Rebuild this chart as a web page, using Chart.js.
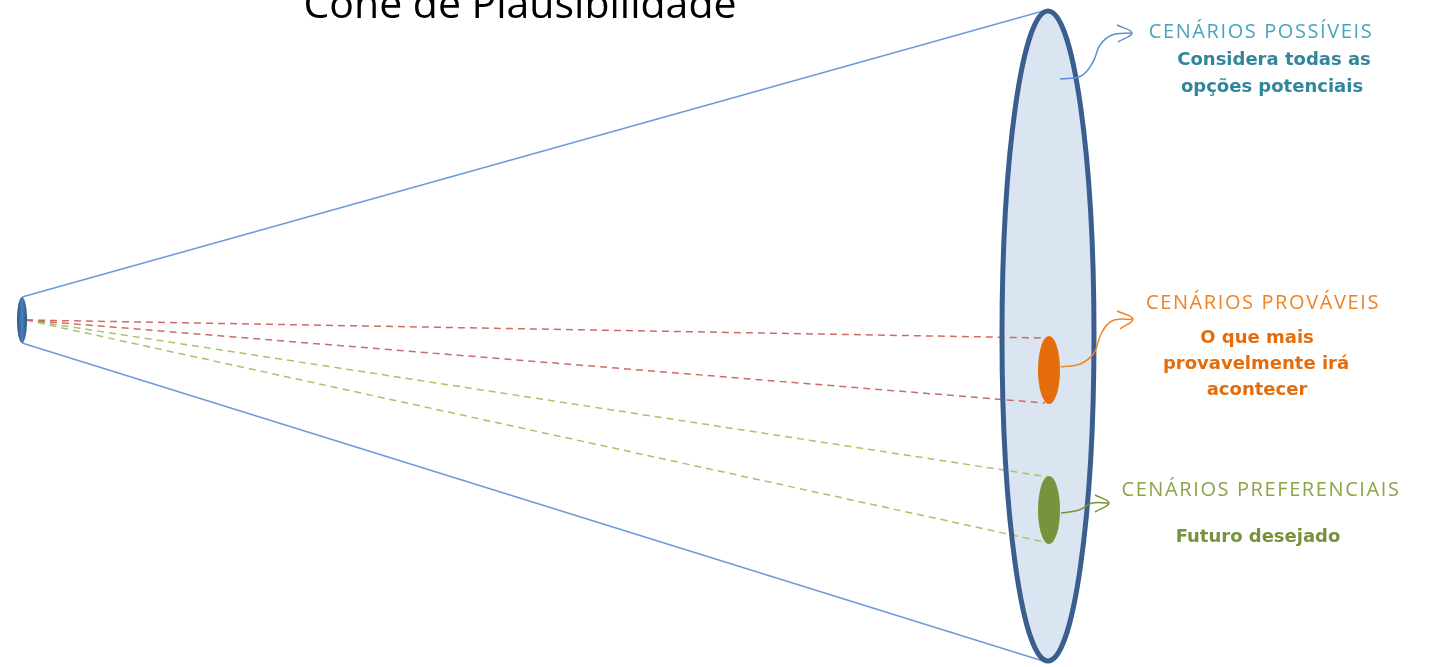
<!doctype html>
<html>
<head>
<meta charset="utf-8">
<title>Cone de Plausibilidade</title>
<style>
  html, body { margin: 0; padding: 0; background: #ffffff; }
  #wrap { width: 1433px; height: 667px; }
</style>
</head>
<body>
<div id="wrap"><canvas id="chart"></canvas></div>
<script src="https://cdn.jsdelivr.net/npm/chart.js"></script>
<script>
// diagram data (in picture units, x right, y down)
const coneUpper = [[22, 297], [1043, 11]];
const coneLower = [[22, 343], [1043, 661]];
const redDashA = [[26, 320], [1045, 338]];
const redDashB = [[26, 320], [1045, 403]];
const greenDashA = [[26, 320], [1049, 477]];
const greenDashB = [[26, 320], [1049, 543]];

const ellipseCX = [22, 1048, 1049, 1049];
const ellipseCY = [320, 336, 370, 510];
const ellipseRX = [5, 46, 11, 11];
const ellipseRY = [23, 325, 34, 34];

const arrowBlue = [[1060, 79], [1081, 76], [1093, 62], [1100, 45], [1112, 35], [1131, 33]];
const arrowBlueHead = [[1117, 25], [1132, 33], [1118, 42]];
const arrowOrange = [[1061, 367], [1080, 364], [1094, 353], [1101, 334], [1112, 321], [1132, 319]];
const arrowOrangeHead = [[1117, 311], [1133, 319], [1120, 329]];
const arrowGreen = [[1061, 513], [1079, 510], [1092, 503], [1108, 503]];
const arrowGreenHead = [[1095, 495], [1109, 503], [1095, 512]];

const titleText = 'Cone de Plausibilidade';
const labelTexts = ['CENÁRIOS POSSÍVEIS', 'Considera todas as', 'opções potenciais',
                    'CENÁRIOS PROVÁVEIS', 'O que mais', 'provavelmente irá', 'acontecer',
                    'CENÁRIOS PREFERENCIAIS', 'Futuro desejado'];
const labelX = [1261, 1274, 1272, 1263, 1257, 1256, 1257, 1261, 1258];
const labelY = [32, 60, 87, 303, 338, 364, 390, 490, 537];
const labelKind = ['head', 'body', 'body', 'head', 'body', 'body', 'body', 'head', 'body'];
const labelColor = ['#48a3bf', '#31859c', '#31859c', '#ef8224', '#e46c0a', '#e46c0a', '#e46c0a', '#8ba447', '#76923c'];

function pts(arr) { return arr.map(p => ({ x: p[0], y: p[1] })); }

function seg(arr, color, width, dash, order) {
  return {
    type: 'line', data: pts(arr), borderColor: color, borderWidth: width,
    borderDash: dash || [], pointRadius: 0, fill: false, tension: 0, order: order
  };
}
function curve(arr, color, order) {
  const d = seg(arr, color, 1.5, [], order);
  d.tension = 0.4;
  d.isArrow = true;
  return d;
}

function ell(ctx, chart, i) {
  const xs = chart.scales.x, ys = chart.scales.y;
  const cx = xs.getPixelForValue(ellipseCX[i]);
  const cy = ys.getPixelForValue(ellipseCY[i]);
  const rx = Math.abs(xs.getPixelForValue(ellipseCX[i] + ellipseRX[i]) - cx);
  const ry = Math.abs(ys.getPixelForValue(ellipseCY[i] + ellipseRY[i]) - cy);
  ctx.beginPath();
  ctx.ellipse(cx, cy, rx, ry, 0, 0, Math.PI * 2);
}

const conePlugin = {
  id: 'cone',
  beforeDraw(chart) { chart._ellDone = false; },
  beforeDatasetsDraw(chart) {
    const ctx = chart.ctx;
    ctx.save();
    ell(ctx, chart, 1);
    ctx.fillStyle = '#dbe5f1';
    ctx.fill();
    ctx.restore();
  },
  beforeDatasetDraw(chart, args) {
    if (chart._ellDone || !chart.data.datasets[args.index].isArrow) return;
    chart._ellDone = true;
    const ctx = chart.ctx;
    ctx.save();
    ell(ctx, chart, 1);
    ctx.strokeStyle = '#3a5f8e';
    ctx.lineWidth = 5;
    ctx.stroke();
    ell(ctx, chart, 0);
    const g = ctx.createLinearGradient(17, 0, 27, 0);
    g.addColorStop(0, '#2a5788');
    g.addColorStop(0.5, '#4a7fb8');
    g.addColorStop(1, '#2a5788');
    ctx.fillStyle = g;
    ctx.fill();
    ell(ctx, chart, 2);
    ctx.fillStyle = '#e46c0a';
    ctx.fill();
    ell(ctx, chart, 3);
    ctx.fillStyle = '#77933c';
    ctx.fill();
    ctx.restore();
  },
  afterDatasetsDraw(chart) {
    const ctx = chart.ctx, xs = chart.scales.x, ys = chart.scales.y;
    ctx.save();
    ctx.textAlign = 'center';
    ctx.fillStyle = '#000000';
    ctx.font = '41px "Open Sans", sans-serif';
    ctx.textBaseline = 'alphabetic';
    ctx.fillText(titleText, xs.getPixelForValue(520), ys.getPixelForValue(18));
    ctx.textBaseline = 'middle';
    labelTexts.forEach((t, i) => {
      if (labelKind[i] === 'head') {
        ctx.font = '20px "Open Sans", sans-serif';
        ctx.letterSpacing = '1.6px';
      } else {
        ctx.font = 'bold 18px "DejaVu Sans", sans-serif';
        ctx.letterSpacing = '0px';
      }
      ctx.fillStyle = labelColor[i];
      ctx.fillText(t, xs.getPixelForValue(labelX[i]), ys.getPixelForValue(labelY[i]));
    });
    ctx.restore();
  }
};

new Chart(document.getElementById('chart'), {
  type: 'scatter',
  data: {
    datasets: [
      curve(arrowBlue, '#5b8fd0', 1),
      curve(arrowBlueHead, '#5b8fd0', 1),
      curve(arrowOrange, '#f08426', 1),
      curve(arrowOrangeHead, '#f08426', 1),
      curve(arrowGreen, '#77933c', 1),
      curve(arrowGreenHead, '#77933c', 1),
      seg(coneUpper, '#6d9bd6', 1.5, [], 5),
      seg(coneLower, '#6d9bd6', 1.5, [], 5),
      seg(redDashA, '#cd6b68', 1.5, [7, 5], 5),
      seg(redDashB, '#cd6b68', 1.5, [7, 5], 5),
      seg(greenDashA, '#a6c46a', 1.5, [7, 5], 5),
      seg(greenDashB, '#a6c46a', 1.5, [7, 5], 5)
    ]
  },
  options: {
    responsive: true,
    maintainAspectRatio: false,
    animation: false,
    layout: { padding: 0 },
    plugins: { legend: { display: false }, tooltip: { enabled: false }, title: { display: false } },
    scales: {
      x: { type: 'linear', min: 0, max: 1433, display: false },
      y: { type: 'linear', min: 0, max: 667, reverse: true, display: false }
    }
  },
  plugins: [conePlugin]
});
</script>
</body>
</html>
